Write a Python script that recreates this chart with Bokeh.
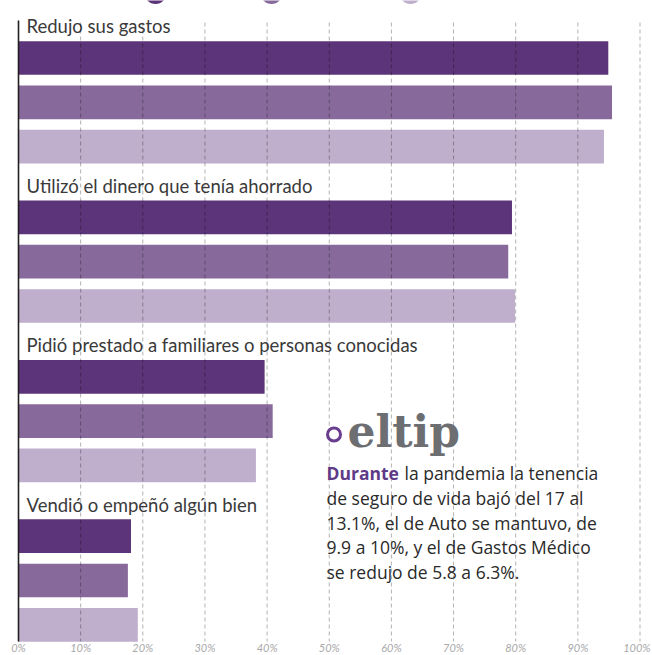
from bokeh.plotting import figure
from bokeh.models import Range1d
from bokeh.core.properties import value
from bokeh.embed import file_html
from bokeh.resources import INLINE

# ---------------- data ----------------
CATEGORIES = [
    "Redujo sus gastos",
    "Utilizó el dinero que tenía ahorrado",
    "Pidió prestado a familiares o personas conocidas",
    "Vendió o empeñó algún bien",
]
SERIES_1 = [94.9, 79.4, 39.6, 18.1]
SERIES_2 = [95.5, 78.8, 40.9, 17.6]
SERIES_3 = [94.2, 79.9, 38.2, 19.2]
TICKS = [0, 10, 20, 30, 40, 50, 60, 70, 80, 90, 100]
TICK_LABELS = ["0%", "10%", "20%", "30%", "40%", "50%", "60%", "70%", "80%", "90%", "100%"]
TIP_TITLE = "eltip"
TIP_LEAD = "Durante"
TIP_LINES = [
    "la pandemia la tenencia",
    "de seguro de vida bajó del 17 al",
    "13.1%, el de Auto se mantuvo, de",
    "9.9 a 10%, y el de Gastos Médico",
    "se redujo de 5.8 a 6.3%.",
]

# ---------------- style / layout ----------------
COLORS = ["#5c3479", "#876a9b", "#bfafcc"]
W, H = 652, 655
PX_PER_PCT = 6.215
X0 = 18.0                       # screen x of 0%
X_START = -X0 / PX_PER_PCT
X_END = X_START + W / PX_PER_PCT


def px2x(px):
    return (px - X0) / PX_PER_PCT


def base(y, size):
    # compensate the renderer's alphabetic-baseline offset
    return y - 0.37 * size


GROUP_PITCH = 159.4
BAR_STEP = 44.3
BAR_H = 33.7
FIRST_CENTER = 57.5
LABEL_SIZE = 18.5
PARA_SIZE = 17.5
TITLE_SIZE = 44

p = figure(width=W, height=H, output_backend="svg", toolbar_location=None,
           x_range=Range1d(X_START, X_END), y_range=Range1d(start=H, end=0),
           min_border_left=0, min_border_right=0,
           min_border_top=0, min_border_bottom=0)
p.xaxis.visible = False
p.yaxis.visible = False
p.xgrid.visible = False
p.ygrid.visible = False
p.outline_line_color = None
p.background_fill_color = "white"
p.border_fill_color = "white"

series = [SERIES_1, SERIES_2, SERIES_3]
for j, vals in enumerate(series):
    ys = [FIRST_CENTER + i * GROUP_PITCH + j * BAR_STEP for i in range(len(CATEGORIES))]
    p.hbar(y=ys, left=0, right=vals, height=BAR_H, fill_color=COLORS[j], line_color=None)

# category labels
label_y = [base(FIRST_CENTER - BAR_H / 2 - 8 + i * GROUP_PITCH, LABEL_SIZE)
           for i in range(len(CATEGORIES))]
p.text(x=[px2x(26)] * len(CATEGORIES), y=label_y, text=CATEGORIES,
       text_font=value("Lato"), text_font_size=f"{LABEL_SIZE}px", text_color="#3a3a3a",
       text_baseline="alphabetic", text_align="left")

# dashed grid drawn over bars
p.segment(x0=TICKS, y0=[22] * len(TICKS), x1=TICKS, y1=[641] * len(TICKS),
          line_color="black", line_alpha=0.3, line_width=1, line_dash="4 3")

# left axis line
p.segment(x0=[0], y0=[20], x1=[0], y1=[641], line_color="#231f20", line_width=1.6)

# tick labels (last one right-aligned so it stays inside the picture)
tick_style = dict(text_font=value("Lato"), text_font_style="italic", text_font_size="11px",
                  text_color="#a8a8a8", text_baseline="top")
p.text(x=TICKS[:-1], y=[640] * (len(TICKS) - 1), text=TICK_LABELS[:-1],
       text_align="center", **tick_style)
p.text(x=[px2x(650)], y=[640], text=TICK_LABELS[-1:], text_align="right", **tick_style)

# legend markers (cut at the top edge as in the original)
p.scatter(x=[px2x(155), px2x(271), px2x(410)], y=[-7.5] * 3, size=22, marker="circle",
          fill_color=COLORS, line_color=None)

# el tip box
p.scatter(x=[px2x(333.5)], y=[434], size=13, marker="circle",
          fill_color=None, line_color="#6a3d8f", line_width=3)
p.text(x=[px2x(347)], y=[base(447, TITLE_SIZE)], text=[TIP_TITLE],
       text_font=value("DejaVu Serif"), text_font_style="bold",
       text_font_size=f"{TITLE_SIZE}px", text_color="#6d6e71", text_baseline="alphabetic")
p.text(x=[px2x(326)], y=[base(479, PARA_SIZE)], text=[TIP_LEAD], text_font=value("Open Sans"),
       text_font_style="bold", text_font_size=f"{PARA_SIZE}px", text_color="#5e3a87",
       text_baseline="alphabetic")
line_x = [px2x(404)] + [px2x(326)] * (len(TIP_LINES) - 1)
line_y = [base(479 + k * 24.8, PARA_SIZE) for k in range(len(TIP_LINES))]
p.text(x=line_x, y=line_y, text=TIP_LINES, text_font=value("Open Sans"),
       text_font_size=f"{PARA_SIZE}px", text_color="#2a2a2a", text_baseline="alphabetic")

open("out.html", "w").write(file_html(p, INLINE))
